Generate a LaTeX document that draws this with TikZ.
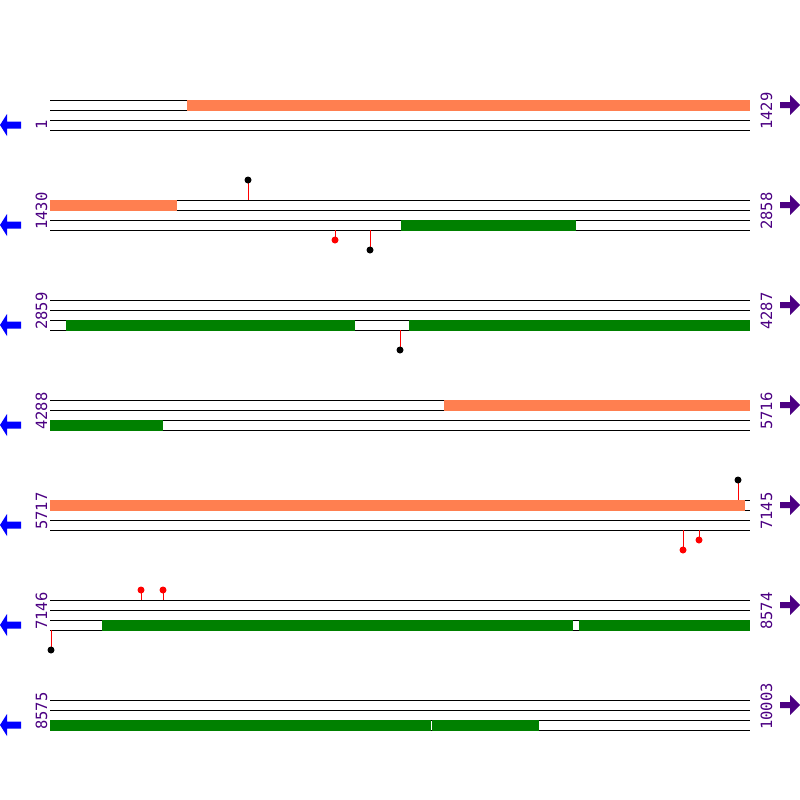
\documentclass[tikz,border=0pt]{standalone}
\usepackage{fontspec}
\newfontfamily\labfont{DejaVu Sans Mono}
\definecolor{labcol}{RGB}{75,0,130}
\definecolor{orangebar}{RGB}{255,127,80}
\definecolor{greenbar}{RGB}{0,128,0}
\definecolor{leftblue}{RGB}{0,0,255}
\begin{document}
\begin{tikzpicture}[x=1pt,y=-1pt,
  seqline/.style={black,line width=1pt},
  poslabel/.style={rotate=90,anchor=base west,inner sep=0pt,text=labcol,font=\labfont\fontsize{15.5}{16}\selectfont},
  stick/.style={red,line width=1pt},
  orbar/.style={fill=orangebar},
  grbar/.style={fill=greenbar}]
\useasboundingbox (0,0) rectangle (800,800);
\foreach \r [count=\i from 0] in {1,...,7}{
  \pgfmathsetmacro{\yy}{100+100*\i}
  \foreach \d in {0,10,20,30}{
    \draw[seqline] (50,\yy+\d) -- (750,\yy+\d);
  }
  % left arrow
  \fill[leftblue] (0,\yy+25) -- (7,\yy+14) -- (7,\yy+21.5) -- (21,\yy+21.5) -- (21,\yy+28.5) -- (7,\yy+28.5) -- (7,\yy+36) -- cycle;
  % right arrow
  \fill[labcol] (780,\yy+2) -- (790,\yy+2) -- (790,\yy-5) -- (800,\yy+5) -- (790,\yy+15) -- (790,\yy+8) -- (780,\yy+8) -- cycle;
}
% row 1
\fill[orbar] (187,99.5) rectangle (750,110.5);
% row 2
\fill[orbar] (50,199.5) rectangle (177,210.5);
\fill[grbar] (401,219.5) rectangle (576,230.5);
\draw[stick] (248,200) -- (248,180);
\fill[black] (248,180) circle (3.5);
\draw[stick] (335,230) -- (335,240);
\fill[red] (335,240) circle (3.5);
\draw[stick] (370,230) -- (370,250);
\fill[black] (370,250) circle (3.5);
% row 3
\fill[grbar] (66,319.5) rectangle (355,330.5);
\fill[grbar] (409,319.5) rectangle (750,330.5);
\draw[stick] (400,330) -- (400,350);
\fill[black] (400,350) circle (3.5);
% row 4
\fill[orbar] (444,399.5) rectangle (750,410.5);
\fill[grbar] (50,419.5) rectangle (163,430.5);
% row 5
\fill[orbar] (50,499.5) rectangle (745,510.5);
\draw[stick] (738,500) -- (738,480);
\fill[black] (738,480) circle (3.5);
\draw[stick] (683,530) -- (683,550);
\fill[red] (683,550) circle (3.5);
\draw[stick] (699,530) -- (699,540);
\fill[red] (699,540) circle (3.5);
% row 6
\draw[stick] (141,600) -- (141,590);
\fill[red] (141,590) circle (3.5);
\draw[stick] (163,600) -- (163,590);
\fill[red] (163,590) circle (3.5);
\fill[grbar] (102,619.5) rectangle (573,630.5);
\fill[grbar] (579,619.5) rectangle (750,630.5);
\draw[stick] (51,630) -- (51,650);
\fill[black] (51,650) circle (3.5);
% row 7
\fill[grbar] (50,719.5) rectangle (431,730.5);
\fill[grbar] (432,719.5) rectangle (539,730.5);
% labels
\node[poslabel] (l1) at (47,130) {1};
\node[poslabel] (r1) at (772,130) {1429};
\node[poslabel] (l2) at (47,230) {1430};
\node[poslabel] (r2) at (772,230) {2858};
\node[poslabel] (l3) at (47,330) {2859};
\node[poslabel] (r3) at (772,330) {4287};
\node[poslabel] (l4) at (47,430) {4288};
\node[poslabel] (r4) at (772,430) {5716};
\node[poslabel] (l5) at (47,530) {5717};
\node[poslabel] (r5) at (772,530) {7145};
\node[poslabel] (l6) at (47,630) {7146};
\node[poslabel] (r6) at (772,630) {8574};
\node[poslabel] (l7) at (47,730) {8575};
\node[poslabel] (r7) at (772,730) {10003};
\end{tikzpicture}
\end{document}
